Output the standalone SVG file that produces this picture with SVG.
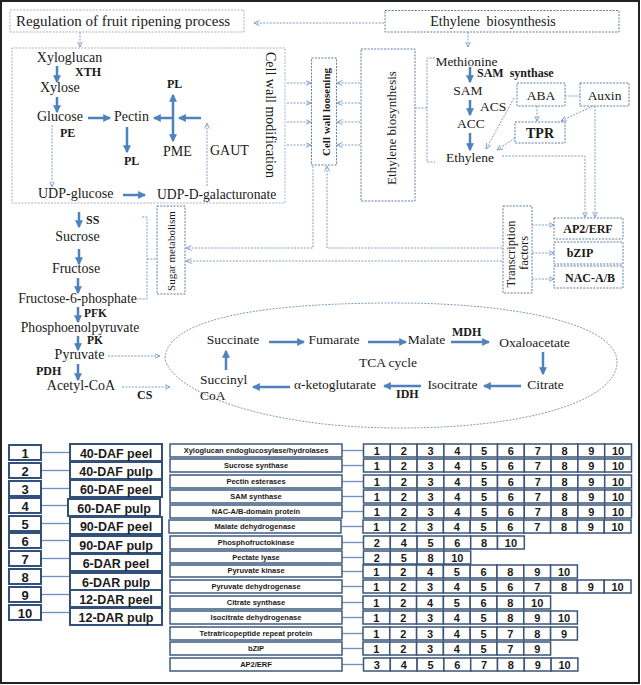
<svg xmlns="http://www.w3.org/2000/svg" xmlns:xlink="http://www.w3.org/1999/xlink" width="641" height="685" viewBox="0 0 641 685">
<defs>
<style>
.t{font-family:"Liberation Serif","Times New Roman",serif;font-size:14px;fill:#1a1a1a}
.tc{font-size:13.5px}
.b{font-weight:bold;font-size:12px}
.m{text-anchor:middle}
.gb{fill:none;stroke:#a9b1ba;stroke-width:1;stroke-dasharray:2 1.3}
.db{fill:none;stroke:#5d7ca4;stroke-width:1;stroke-dasharray:2 1.3}
.ar{stroke:#4f81bd;stroke-width:2.5;fill:none;marker-end:url(#ah)}
.dl{stroke:#7f9cc2;stroke-width:1;stroke-dasharray:2 1.3;fill:none}
.da{marker-end:url(#dh)}
.s{font-family:"Liberation Sans",Arial,sans-serif;font-weight:bold;fill:#1a1a1a;text-anchor:middle}
.nb{fill:#fff;stroke:#33507a;stroke-width:2}
.pb{fill:#fff;stroke:#3d5a80;stroke-width:1.5}
.ln{stroke:#6f8fbf;stroke-width:1.3}
.cell{fill:#fff;stroke:#3a5478;stroke-width:1.5}
.n{font-size:11px}
.p{font-size:7.5px}
.lb{font-size:12.5px}
</style>
<marker id="ah" viewBox="0 0 10 10" refX="8.5" refY="5" markerWidth="3.2" markerHeight="3.2" orient="auto-start-reverse"><path d="M0,0 L10,5 L0,10 z" fill="#4f81bd"/></marker>
<marker id="dh" viewBox="0 0 6 6" refX="5.5" refY="3" markerWidth="6" markerHeight="6" markerUnits="userSpaceOnUse" orient="auto"><path d="M0,0.5 L5.5,3 L0,5.5" fill="none" stroke="#7f9cc2" stroke-width="0.9"/></marker>
<rect id="cell" class="cell" width="26.8" height="13"/>
</defs>
<rect x="0" y="0" width="641" height="685" fill="#fff"/>
<rect x="1" y="1" width="638" height="682" fill="none" stroke="#222" stroke-width="2"/>

<g id="regulation">
<rect class="gb" x="10" y="10" width="234" height="22"/>
<text class="t m" x="123" y="26" style="font-size:15px">Regulation of fruit ripening process</text>
</g>
<g id="ethylene-top">
<rect class="db" x="385" y="10.5" width="234" height="21.5"/>
<text class="t m" x="493" y="26" word-spacing="3">Ethylene biosynthesis</text>
</g>

<g id="cell-wall-modification">
<rect class="gb" x="12" y="48" width="273" height="155"/>
<text class="t m" transform="translate(266,115) rotate(90)">Cell wall modification</text>
<text class="t m" x="69.5" y="62">Xyloglucan</text>
<text class="t b" x="75" y="76">XTH</text>
<text class="t" x="40" y="92">Xylose</text>
<text class="t" x="37" y="121">Glucose</text>
<text class="t b" x="60" y="137">PE</text>
<text class="t" x="114" y="121">Pectin</text>
<text class="t b" x="124" y="165">PL</text>
<text class="t b" x="167" y="88">PL</text>
<text class="t" x="163" y="156">PME</text>
<text class="t" x="210" y="155">GAUT</text>
<text class="t" x="38" y="198">UDP-glucose</text>
<text class="t" x="157" y="199" style="font-size:13.6px">UDP-D-galacturonate</text>
</g>

<g id="cell-wall-loosening">
<rect class="db" x="311.5" y="58" width="25" height="107"/>
<text class="t b m" style="font-size:11px" transform="translate(329.5,112) rotate(-90)">Cell wall loosening</text>
</g>
<g id="ethylene-biosynthesis-v">
<rect class="db" x="361" y="49" width="54" height="152"/>
<text class="t m" style="font-size:13px" transform="translate(396,128) rotate(-90)">Ethylene biosynthesis</text>
</g>

<g id="ethylene-pathway">
<text class="t m" x="466.5" y="66" style="font-size:13.5px">Methionine</text>
<text class="t b" x="477" y="77" word-spacing="3">SAM synthase</text>
<text class="t m" x="468" y="95" style="font-size:13.5px">SAM</text>
<text class="t" x="480" y="111" style="font-size:13.5px">ACS</text>
<text class="t m" x="471" y="128" style="font-size:13.5px">ACC</text>
<text class="t m" x="470" y="162" style="font-size:13.5px">Ethylene</text>
</g>
<g id="aba"><rect class="db" x="517" y="83" width="48" height="23"/><text class="t m" x="541" y="100" style="font-size:13.5px">ABA</text></g>
<g id="auxin"><rect class="db" x="580" y="83" width="49" height="23"/><text class="t m" x="604.5" y="100" style="font-size:13.5px">Auxin</text></g>
<g id="tpr"><rect class="db" x="515" y="122" width="50" height="21"/><text class="t b m" x="540" y="138" style="font-size:14px">TPR</text></g>

<g id="transcription-factors">
<rect class="db" x="503" y="206" width="29" height="87"/>
<text class="t m" style="font-size:12.5px" transform="translate(515,254) rotate(-90)">Transcription</text>
<text class="t m" style="font-size:12.5px" transform="translate(528,253) rotate(-90)">factors</text>
</g>
<g id="ap2erf"><rect class="db" x="554" y="218" width="69" height="21"/><text class="t b m" x="588" y="233">AP2/ERF</text></g>
<g id="bzip"><rect class="db" x="554" y="242" width="69" height="22"/><text class="t b m" x="580" y="257">bZIP</text></g>
<g id="nac"><rect class="db" x="554" y="266" width="69" height="22"/><text class="t b m" x="590" y="282">NAC-A/B</text></g>

<g id="sugar-metabolism">
<rect class="db" x="157" y="206" width="28" height="88"/>
<text class="t m" style="font-size:11px" transform="translate(174.5,251) rotate(-90)">Sugar metabolism</text>
</g>

<g id="sugar-pathway">
<text class="t b" x="86" y="224">SS</text>
<text class="t m" x="77.5" y="241">Sucrose</text>
<text class="t m" x="76" y="273">Fructose</text>
<text class="t m" x="77.5" y="303" style="font-size:13.7px">Fructose-6-phosphate</text>
<text class="t b" x="84" y="316.5" style="font-size:11.5px">PFK</text>
<text class="t m" x="80" y="332" style="font-size:13.7px">Phosphoenolpyruvate</text>
<text class="t b" x="87" y="344" style="font-size:11.5px">PK</text>
<text class="t m" x="79.5" y="359">Pyruvate</text>
<text class="t b" x="36" y="375">PDH</text>
<text class="t m" x="81" y="390">Acetyl-CoA</text>
<text class="t b" x="137" y="399">CS</text>
</g>

<g id="tca-cycle">
<path class="dl" d="M165,358 C167,325 235,303 395,303 C520,303 617,325 617,362 C617,400 530,428 400,428 C260,428 170,390 165,358 Z"/>
<text class="t tc m" x="233" y="344">Succinate</text>
<text class="t tc m" x="334" y="344">Fumarate</text>
<text class="t tc m" x="426.5" y="344">Malate</text>
<text class="t b" x="452" y="336">MDH</text>
<text class="t tc m" x="534.5" y="347">Oxaloacetate</text>
<text class="t tc m" x="545.5" y="389">Citrate</text>
<text class="t tc m" x="452.5" y="389">Isocitrate</text>
<text class="t b" x="396" y="398">IDH</text>
<text class="t tc m" x="335" y="389">α-ketoglutarate</text>
<text class="t tc" x="200" y="384">Succinyl</text>
<text class="t tc" x="200" y="400">CoA</text>
<text class="t tc m" x="388" y="367">TCA cycle</text>
</g>

<g id="connectors">
<line class="dl da" x1="384" y1="23" x2="254" y2="23"/>
<line class="dl da" x1="80" y1="32" x2="80" y2="47"/>
<line class="dl da" x1="468" y1="32" x2="468" y2="47"/>
<line class="dl da" x1="287" y1="83" x2="311" y2="83"/>
<line class="dl da" x1="287" y1="103" x2="311" y2="103"/>
<line class="dl da" x1="287" y1="122" x2="311" y2="122"/>
<line class="dl da" x1="287" y1="145" x2="311" y2="145"/>
<line class="dl da" x1="360" y1="83" x2="337" y2="83"/>
<line class="dl da" x1="360" y1="103" x2="337" y2="103"/>
<line class="dl da" x1="360" y1="122" x2="337" y2="122"/>
<line class="dl da" x1="360" y1="145" x2="337" y2="145"/>
<polyline class="dl" points="435,58 427,58 427,162 435,162"/>
<line class="dl" x1="415" y1="108" x2="427" y2="108"/>
<line class="dl" x1="565" y1="96" x2="580" y2="96"/>
<line class="dl da" x1="537" y1="106" x2="537" y2="121"/>
<line class="dl da" x1="593" y1="106" x2="561" y2="121"/>
<line class="dl da" x1="514" y1="98" x2="486" y2="149"/>
<line class="dl da" x1="515" y1="138" x2="497" y2="150"/>
<polyline class="dl da" points="502,156 585,156 585,217"/>
<polyline class="dl da" points="595,106 595,217"/>
<line class="dl da" x1="532" y1="225" x2="554" y2="225"/>
<line class="dl da" x1="532" y1="253" x2="554" y2="253"/>
<line class="dl da" x1="532" y1="279" x2="554" y2="279"/>
<polyline class="dl da" points="313,166 313,248 186,248"/>
<polyline class="dl da" points="502,248 327,248 327,166"/>
<polyline class="dl da" points="502,261 186,261"/>
<polyline class="dl" points="142,217 147,217 147,299 137,299"/>
<line class="dl" x1="147" y1="259" x2="157" y2="259"/>
<line class="dl da" x1="52" y1="125" x2="52" y2="187"/>
<line class="dl da" x1="207" y1="186" x2="207" y2="123"/>
<line class="dl da" x1="108" y1="356" x2="160" y2="356"/>
<line class="dl da" x1="122" y1="387" x2="170" y2="387"/>
<line class="ar" x1="57" y1="66" x2="57" y2="82"/>
<line class="ar" x1="57" y1="97" x2="57" y2="112"/>
<line class="ar" x1="88" y1="118" x2="110" y2="118"/>
<line class="ar" x1="127" y1="127" x2="127" y2="152"/>
<line class="ar" x1="173" y1="95" x2="173" y2="141" style="marker-start:url(#ah)"/>
<line class="ar" x1="172" y1="118" x2="154" y2="118"/>
<line class="ar" x1="201" y1="118" x2="179" y2="118"/>
<line class="ar" x1="123" y1="195" x2="145" y2="195"/>
<line class="ar" x1="470" y1="67" x2="470" y2="82"/>
<line class="ar" x1="470" y1="100" x2="470" y2="115"/>
<line class="ar" x1="470" y1="133" x2="470" y2="150"/>
<line class="ar" x1="79" y1="212" x2="79" y2="227"/>
<line class="ar" x1="79" y1="249" x2="79" y2="264"/>
<line class="ar" x1="78" y1="278" x2="78" y2="293"/>
<line class="ar" x1="78" y1="307" x2="78" y2="322"/>
<line class="ar" x1="78" y1="336" x2="78" y2="350"/>
<line class="ar" x1="78" y1="364" x2="78" y2="380"/>
<line class="ar" x1="269" y1="342" x2="304" y2="342"/>
<line class="ar" x1="368" y1="342" x2="406" y2="342"/>
<line class="ar" x1="451" y1="342" x2="489" y2="342"/>
<line class="ar" x1="543" y1="352" x2="543" y2="374"/>
<line class="ar" x1="521" y1="386" x2="484" y2="386"/>
<line class="ar" x1="421" y1="386" x2="384" y2="386"/>
<line class="ar" x1="290" y1="387" x2="253" y2="387"/>
<line class="ar" x1="226" y1="370" x2="226" y2="351"/>
<line class="ln" x1="41" y1="452.5" x2="70" y2="452.5"/>
<line class="ln" x1="41" y1="470.5" x2="70" y2="470.5"/>
<line class="ln" x1="41" y1="488.5" x2="70" y2="488.5"/>
<line class="ln" x1="41" y1="505.5" x2="68" y2="505.5"/>
<line class="ln" x1="41" y1="523.5" x2="70" y2="523.5"/>
<line class="ln" x1="41" y1="540.5" x2="70" y2="540.5"/>
<line class="ln" x1="41" y1="558.5" x2="70" y2="558.5"/>
<line class="ln" x1="41" y1="576.5" x2="70" y2="576.5"/>
<line class="ln" x1="41" y1="594.5" x2="70" y2="594.5"/>
<line class="ln" x1="41" y1="612.5" x2="70" y2="612.5"/>
<line class="ln" x1="342" y1="450.5" x2="363" y2="450.5"/>
<line class="ln" x1="342" y1="465.5" x2="363" y2="465.5"/>
<line class="ln" x1="342" y1="481.5" x2="363" y2="481.5"/>
<line class="ln" x1="342" y1="496.5" x2="363" y2="496.5"/>
<line class="ln" x1="342" y1="511.5" x2="363" y2="511.5"/>
<line class="ln" x1="342" y1="526.5" x2="363" y2="526.5"/>
<line class="ln" x1="342" y1="542.5" x2="363" y2="542.5"/>
<line class="ln" x1="342" y1="557.5" x2="363" y2="557.5"/>
<line class="ln" x1="342" y1="571.5" x2="363" y2="571.5"/>
<line class="ln" x1="342" y1="586.5" x2="363" y2="586.5"/>
<line class="ln" x1="342" y1="602.5" x2="363" y2="602.5"/>
<line class="ln" x1="342" y1="617.5" x2="363" y2="617.5"/>
<line class="ln" x1="342" y1="633.5" x2="363" y2="633.5"/>
<line class="ln" x1="342" y1="648.5" x2="363" y2="648.5"/>
<line class="ln" x1="342" y1="664.5" x2="363" y2="664.5"/>
</g>

<g id="samples">
<rect class="nb" x="9" y="445" width="32" height="15"/><text class="s" x="25" y="457.5" font-size="13">1</text>
<rect class="nb" x="9" y="463" width="32" height="15"/><text class="s" x="25" y="475.5" font-size="13">2</text>
<rect class="nb" x="9" y="481" width="32" height="15"/><text class="s" x="25" y="493.5" font-size="13">3</text>
<rect class="nb" x="9" y="498" width="32" height="15"/><text class="s" x="25" y="510.5" font-size="13">4</text>
<rect class="nb" x="9" y="516" width="32" height="15"/><text class="s" x="25" y="528.5" font-size="13">5</text>
<rect class="nb" x="9" y="533" width="32" height="15"/><text class="s" x="25" y="545.5" font-size="13">6</text>
<rect class="nb" x="9" y="551" width="32" height="15"/><text class="s" x="25" y="563.5" font-size="13">7</text>
<rect class="nb" x="9" y="569" width="32" height="15"/><text class="s" x="25" y="581.5" font-size="13">8</text>
<rect class="nb" x="9" y="587" width="32" height="15"/><text class="s" x="25" y="599.5" font-size="13">9</text>
<rect class="nb" x="9" y="605" width="32" height="15"/><text class="s" x="25" y="617.5" font-size="13">10</text>
<rect class="nb" x="70" y="444" width="92" height="17"/><text class="s lb" x="116" y="457.5">40-DAF peel</text>
<rect class="nb" x="70" y="462" width="92" height="17"/><text class="s lb" x="116" y="475.5">40-DAF pulp</text>
<rect class="nb" x="70" y="480" width="92" height="17"/><text class="s lb" x="116" y="493.5">60-DAF peel</text>
<rect class="nb" x="68" y="499" width="92" height="17"/><text class="s lb" x="114" y="512.5">60-DAF pulp</text>
<rect class="nb" x="70" y="517" width="92" height="17"/><text class="s lb" x="116" y="530.5">90-DAF peel</text>
<rect class="nb" x="70" y="536" width="92" height="17"/><text class="s lb" x="116" y="549.5">90-DAF pulp</text>
<rect class="nb" x="70" y="554" width="92" height="17"/><text class="s lb" x="116" y="567.5">6-DAR peel</text>
<rect class="nb" x="70" y="573" width="92" height="17"/><text class="s lb" x="116" y="586.5">6-DAR pulp</text>
<rect class="nb" x="70" y="590" width="92" height="17"/><text class="s lb" x="116" y="603.5">12-DAR peel</text>
<rect class="nb" x="70" y="608" width="92" height="17"/><text class="s lb" x="116" y="621.5">12-DAR pulp</text>
</g>

<g id="proteins">
<rect class="pb" x="170" y="444" width="172" height="13"/><text class="s p" x="256" y="453">Xyloglucan endoglucosylase/hydrolases</text>
<rect class="pb" x="170" y="459" width="172" height="13"/><text class="s p" x="256" y="468">Sucrose synthase</text>
<rect class="pb" x="170" y="475" width="172" height="13"/><text class="s p" x="256" y="484">Pectin esterases</text>
<rect class="pb" x="170" y="490" width="172" height="13"/><text class="s p" x="256" y="499">SAM synthase</text>
<rect class="pb" x="170" y="505" width="172" height="13"/><text class="s p" x="256" y="514">NAC-A/B-domain protein</text>
<rect class="pb" x="169" y="520" width="172" height="13"/><text class="s p" x="255" y="529">Malate dehydrogenase</text>
<rect class="pb" x="170" y="536" width="172" height="13"/><text class="s p" x="256" y="545">Phosphofructokinase</text>
<rect class="pb" x="170" y="551" width="172" height="12"/><text class="s p" x="256" y="559.5">Pectate lyase</text>
<rect class="pb" x="170" y="565" width="172" height="12"/><text class="s p" x="256" y="573">Pyruvate kinase</text>
<rect class="pb" x="170" y="580" width="172" height="13"/><text class="s p" x="256" y="589">Pyruvate dehydrogenase</text>
<rect class="pb" x="170" y="596" width="172" height="13"/><text class="s p" x="256" y="605">Citrate synthase</text>
<rect class="pb" x="170" y="611" width="172" height="13"/><text class="s p" x="256" y="620">Isocitrate dehydrogenase</text>
<rect class="pb" x="170" y="627" width="172" height="13"/><text class="s p" x="256" y="636">Tetratricopeptide repeat protein</text>
<rect class="pb" x="170" y="642" width="172" height="13"/><text class="s p" x="256" y="651">bZIP</text>
<rect class="pb" x="170" y="658" width="172" height="13"/><text class="s p" x="256" y="667">AP2/ERF</text>
</g>

<g id="grid" class="s n">
<g transform="translate(363.5,444)">
<use xlink:href="#cell" x="0"/><use xlink:href="#cell" x="26.8"/><use xlink:href="#cell" x="53.6"/><use xlink:href="#cell" x="80.4"/><use xlink:href="#cell" x="107.2"/><use xlink:href="#cell" x="134"/><use xlink:href="#cell" x="160.8"/><use xlink:href="#cell" x="187.6"/><use xlink:href="#cell" x="214.4"/><use xlink:href="#cell" x="241.2"/>
<text x="13.4" y="10.5">1</text><text x="40.2" y="10.5">2</text><text x="67" y="10.5">3</text><text x="93.8" y="10.5">4</text><text x="120.6" y="10.5">5</text><text x="147.4" y="10.5">6</text><text x="174.2" y="10.5">7</text><text x="201" y="10.5">8</text><text x="227.8" y="10.5">9</text><text x="254.6" y="10.5">10</text>
</g>
<g transform="translate(363.5,459)">
<use xlink:href="#cell" x="0"/><use xlink:href="#cell" x="26.8"/><use xlink:href="#cell" x="53.6"/><use xlink:href="#cell" x="80.4"/><use xlink:href="#cell" x="107.2"/><use xlink:href="#cell" x="134"/><use xlink:href="#cell" x="160.8"/><use xlink:href="#cell" x="187.6"/><use xlink:href="#cell" x="214.4"/><use xlink:href="#cell" x="241.2"/>
<text x="13.4" y="10.5">1</text><text x="40.2" y="10.5">2</text><text x="67" y="10.5">3</text><text x="93.8" y="10.5">4</text><text x="120.6" y="10.5">5</text><text x="147.4" y="10.5">6</text><text x="174.2" y="10.5">7</text><text x="201" y="10.5">8</text><text x="227.8" y="10.5">9</text><text x="254.6" y="10.5">10</text>
</g>
<g transform="translate(363.5,475)">
<use xlink:href="#cell" x="0"/><use xlink:href="#cell" x="26.8"/><use xlink:href="#cell" x="53.6"/><use xlink:href="#cell" x="80.4"/><use xlink:href="#cell" x="107.2"/><use xlink:href="#cell" x="134"/><use xlink:href="#cell" x="160.8"/><use xlink:href="#cell" x="187.6"/><use xlink:href="#cell" x="214.4"/><use xlink:href="#cell" x="241.2"/>
<text x="13.4" y="10.5">1</text><text x="40.2" y="10.5">2</text><text x="67" y="10.5">3</text><text x="93.8" y="10.5">4</text><text x="120.6" y="10.5">5</text><text x="147.4" y="10.5">6</text><text x="174.2" y="10.5">7</text><text x="201" y="10.5">8</text><text x="227.8" y="10.5">9</text><text x="254.6" y="10.5">10</text>
</g>
<g transform="translate(363.5,490)">
<use xlink:href="#cell" x="0"/><use xlink:href="#cell" x="26.8"/><use xlink:href="#cell" x="53.6"/><use xlink:href="#cell" x="80.4"/><use xlink:href="#cell" x="107.2"/><use xlink:href="#cell" x="134"/><use xlink:href="#cell" x="160.8"/><use xlink:href="#cell" x="187.6"/><use xlink:href="#cell" x="214.4"/><use xlink:href="#cell" x="241.2"/>
<text x="13.4" y="10.5">1</text><text x="40.2" y="10.5">2</text><text x="67" y="10.5">3</text><text x="93.8" y="10.5">4</text><text x="120.6" y="10.5">5</text><text x="147.4" y="10.5">6</text><text x="174.2" y="10.5">7</text><text x="201" y="10.5">8</text><text x="227.8" y="10.5">9</text><text x="254.6" y="10.5">10</text>
</g>
<g transform="translate(363.5,505)">
<use xlink:href="#cell" x="0"/><use xlink:href="#cell" x="26.8"/><use xlink:href="#cell" x="53.6"/><use xlink:href="#cell" x="80.4"/><use xlink:href="#cell" x="107.2"/><use xlink:href="#cell" x="134"/><use xlink:href="#cell" x="160.8"/><use xlink:href="#cell" x="187.6"/><use xlink:href="#cell" x="214.4"/><use xlink:href="#cell" x="241.2"/>
<text x="13.4" y="10.5">1</text><text x="40.2" y="10.5">2</text><text x="67" y="10.5">3</text><text x="93.8" y="10.5">4</text><text x="120.6" y="10.5">5</text><text x="147.4" y="10.5">6</text><text x="174.2" y="10.5">7</text><text x="201" y="10.5">8</text><text x="227.8" y="10.5">9</text><text x="254.6" y="10.5">10</text>
</g>
<g transform="translate(363,520)">
<use xlink:href="#cell" x="0"/><use xlink:href="#cell" x="26.8"/><use xlink:href="#cell" x="53.6"/><use xlink:href="#cell" x="80.4"/><use xlink:href="#cell" x="107.2"/><use xlink:href="#cell" x="134"/><use xlink:href="#cell" x="160.8"/><use xlink:href="#cell" x="187.6"/><use xlink:href="#cell" x="214.4"/><use xlink:href="#cell" x="241.2"/>
<text x="13.4" y="10.5">1</text><text x="40.2" y="10.5">2</text><text x="67" y="10.5">3</text><text x="93.8" y="10.5">4</text><text x="120.6" y="10.5">5</text><text x="147.4" y="10.5">6</text><text x="174.2" y="10.5">7</text><text x="201" y="10.5">8</text><text x="227.8" y="10.5">9</text><text x="254.6" y="10.5">10</text>
</g>
<g transform="translate(363.5,536)">
<use xlink:href="#cell" x="0"/><use xlink:href="#cell" x="26.8"/><use xlink:href="#cell" x="53.6"/><use xlink:href="#cell" x="80.4"/><use xlink:href="#cell" x="107.2"/><use xlink:href="#cell" x="134"/>
<text x="13.4" y="10.5">2</text><text x="40.2" y="10.5">4</text><text x="67" y="10.5">5</text><text x="93.8" y="10.5">6</text><text x="120.6" y="10.5">8</text><text x="147.4" y="10.5">10</text>
</g>
<g transform="translate(363.5,551)">
<use xlink:href="#cell" x="0"/><use xlink:href="#cell" x="26.8"/><use xlink:href="#cell" x="53.6"/><use xlink:href="#cell" x="80.4"/>
<text x="13.4" y="10.5">2</text><text x="40.2" y="10.5">5</text><text x="67" y="10.5">8</text><text x="93.8" y="10.5">10</text>
</g>
<g transform="translate(363,565)">
<use xlink:href="#cell" x="0"/><use xlink:href="#cell" x="26.8"/><use xlink:href="#cell" x="53.6"/><use xlink:href="#cell" x="80.4"/><use xlink:href="#cell" x="107.2"/><use xlink:href="#cell" x="134"/><use xlink:href="#cell" x="160.8"/><use xlink:href="#cell" x="187.6"/>
<text x="13.4" y="10.5">1</text><text x="40.2" y="10.5">2</text><text x="67" y="10.5">4</text><text x="93.8" y="10.5">5</text><text x="120.6" y="10.5">6</text><text x="147.4" y="10.5">8</text><text x="174.2" y="10.5">9</text><text x="201" y="10.5">10</text>
</g>
<g transform="translate(363,580)">
<use xlink:href="#cell" x="0"/><use xlink:href="#cell" x="26.8"/><use xlink:href="#cell" x="53.6"/><use xlink:href="#cell" x="80.4"/><use xlink:href="#cell" x="107.2"/><use xlink:href="#cell" x="134"/><use xlink:href="#cell" x="160.8"/><use xlink:href="#cell" x="187.6"/><use xlink:href="#cell" x="214.4"/><use xlink:href="#cell" x="241.2"/>
<text x="13.4" y="10.5">1</text><text x="40.2" y="10.5">2</text><text x="67" y="10.5">3</text><text x="93.8" y="10.5">4</text><text x="120.6" y="10.5">5</text><text x="147.4" y="10.5">6</text><text x="174.2" y="10.5">7</text><text x="201" y="10.5">8</text><text x="227.8" y="10.5">9</text><text x="254.6" y="10.5">10</text>
</g>
<g transform="translate(363,596)">
<use xlink:href="#cell" x="0"/><use xlink:href="#cell" x="26.8"/><use xlink:href="#cell" x="53.6"/><use xlink:href="#cell" x="80.4"/><use xlink:href="#cell" x="107.2"/><use xlink:href="#cell" x="134"/><use xlink:href="#cell" x="160.8"/>
<text x="13.4" y="10.5">1</text><text x="40.2" y="10.5">2</text><text x="67" y="10.5">4</text><text x="93.8" y="10.5">5</text><text x="120.6" y="10.5">6</text><text x="147.4" y="10.5">8</text><text x="174.2" y="10.5">10</text>
</g>
<g transform="translate(363,611)">
<use xlink:href="#cell" x="0"/><use xlink:href="#cell" x="26.8"/><use xlink:href="#cell" x="53.6"/><use xlink:href="#cell" x="80.4"/><use xlink:href="#cell" x="107.2"/><use xlink:href="#cell" x="134"/><use xlink:href="#cell" x="160.8"/><use xlink:href="#cell" x="187.6"/>
<text x="13.4" y="10.5">1</text><text x="40.2" y="10.5">2</text><text x="67" y="10.5">3</text><text x="93.8" y="10.5">4</text><text x="120.6" y="10.5">5</text><text x="147.4" y="10.5">8</text><text x="174.2" y="10.5">9</text><text x="201" y="10.5">10</text>
</g>
<g transform="translate(363,627)">
<use xlink:href="#cell" x="0"/><use xlink:href="#cell" x="26.8"/><use xlink:href="#cell" x="53.6"/><use xlink:href="#cell" x="80.4"/><use xlink:href="#cell" x="107.2"/><use xlink:href="#cell" x="134"/><use xlink:href="#cell" x="160.8"/><use xlink:href="#cell" x="187.6"/>
<text x="13.4" y="10.5">1</text><text x="40.2" y="10.5">2</text><text x="67" y="10.5">3</text><text x="93.8" y="10.5">4</text><text x="120.6" y="10.5">5</text><text x="147.4" y="10.5">7</text><text x="174.2" y="10.5">8</text><text x="201" y="10.5">9</text>
</g>
<g transform="translate(363,642)">
<use xlink:href="#cell" x="0"/><use xlink:href="#cell" x="26.8"/><use xlink:href="#cell" x="53.6"/><use xlink:href="#cell" x="80.4"/><use xlink:href="#cell" x="107.2"/><use xlink:href="#cell" x="134"/><use xlink:href="#cell" x="160.8"/>
<text x="13.4" y="10.5">1</text><text x="40.2" y="10.5">2</text><text x="67" y="10.5">3</text><text x="93.8" y="10.5">4</text><text x="120.6" y="10.5">5</text><text x="147.4" y="10.5">7</text><text x="174.2" y="10.5">9</text>
</g>
<g transform="translate(363.5,658)">
<use xlink:href="#cell" x="0"/><use xlink:href="#cell" x="26.8"/><use xlink:href="#cell" x="53.6"/><use xlink:href="#cell" x="80.4"/><use xlink:href="#cell" x="107.2"/><use xlink:href="#cell" x="134"/><use xlink:href="#cell" x="160.8"/><use xlink:href="#cell" x="187.6"/>
<text x="13.4" y="10.5">3</text><text x="40.2" y="10.5">4</text><text x="67" y="10.5">5</text><text x="93.8" y="10.5">6</text><text x="120.6" y="10.5">7</text><text x="147.4" y="10.5">8</text><text x="174.2" y="10.5">9</text><text x="201" y="10.5">10</text>
</g>
</g>
</svg>
